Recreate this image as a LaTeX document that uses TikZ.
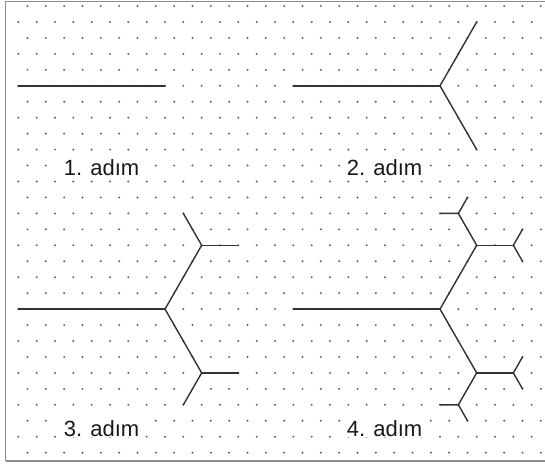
\documentclass[tikz,border=0pt]{standalone}
\usepackage{fontspec}
\setmainfont{Liberation Sans}
\tikzset{
  griddot/.style={fill=black!62, draw=none},
  branch/.style={draw=black!80, line width=1.4pt, line cap=round, line join=round},
  frameline/.style={draw=black!45, line width=0.9pt},
  steplabel/.style={anchor=base west, fill=white, inner sep=0.6pt, text=black!90,
    font=\fontsize{22}{26}\selectfont},
}
\begin{document}
\begin{tikzpicture}[x=1pt,y=-1pt]
\useasboundingbox (0,0) rectangle (545,463);
\fill[white] (0,0) rectangle (545,463);
% frame
\draw[frameline] (545,1) -- (5.5,1) -- (5.5,461);
\draw[frameline, line width=1.3pt] (5.5,461) -- (545,461);
\begin{scope}[shift={(0,6.05)}, x=9.1667pt, y=-15.95pt]
  % isometric dot grid
  \foreach \r in {0,...,28}{
    \pgfmathtruncatemacro\s{mod(\r,2)==0 ? 3 : 2}
    \pgfmathtruncatemacro\t{\s+2}
    \foreach \c in {\s,\t,...,59}{
      \fill[griddot] (\c,\r) circle[radius=1.1pt];
    }
  }
  % step 1
  \coordinate (a1) at (2,5);   \coordinate (b1) at (18,5);
  % step 2
  \coordinate (a2) at (32,5);  \coordinate (b2) at (48,5);
  \coordinate (u2) at (52,1);  \coordinate (l2) at (52,9);
  % step 3
  \coordinate (a3) at (2,19);  \coordinate (b3) at (18,19);
  \coordinate (u3) at (22,15); \coordinate (l3) at (22,23);
  \coordinate (u3r) at (26,15); \coordinate (u3l) at (20,13);
  \coordinate (l3r) at (26,23); \coordinate (l3l) at (20,25);
  % step 4
  \coordinate (a4) at (32,19); \coordinate (b4) at (48,19);
  \coordinate (u4) at (52,15); \coordinate (l4) at (52,23);
  \coordinate (u4r) at (56,15); \coordinate (u4ru) at (57,14); \coordinate (u4rd) at (57,16);
  \coordinate (u4l) at (50,13); \coordinate (u4ll) at (48,13); \coordinate (u4lu) at (51,12);
  \coordinate (l4r) at (56,23); \coordinate (l4ru) at (57,22); \coordinate (l4rd) at (57,24);
  \coordinate (l4l) at (50,25); \coordinate (l4ll) at (48,25); \coordinate (l4ld) at (51,26);

  \draw[branch] (a1) -- (b1);

  \draw[branch] (a2) -- (b2);
  \draw[branch] (u2) -- (b2) -- (l2);

  \draw[branch] (a3) -- (b3);
  \draw[branch] (u3l) -- (u3) -- (b3) -- (l3) -- (l3l);
  \draw[branch] (u3) -- (u3r);
  \draw[branch] (l3) -- (l3r);

  \draw[branch] (a4) -- (b4);
  \draw[branch] (u4l) -- (u4) -- (b4) -- (l4) -- (l4l);
  \draw[branch] (u4) -- (u4r);
  \draw[branch] (l4) -- (l4r);
  \draw[branch] (u4ru) -- (u4r) -- (u4rd);
  \draw[branch] (l4ru) -- (l4r) -- (l4rd);
  \draw[branch] (u4ll) -- (u4l) -- (u4lu);
  \draw[branch] (l4ll) -- (l4l) -- (l4ld);
\end{scope}
% labels
\node[steplabel] (t1) at (63,175.5) {1. adım};
\node[steplabel] (t2) at (346,175.5) {2. adım};
\node[steplabel] (t3) at (63,436) {3. adım};
\node[steplabel] (t4) at (346,436) {4. adım};
\end{tikzpicture}
\end{document}
